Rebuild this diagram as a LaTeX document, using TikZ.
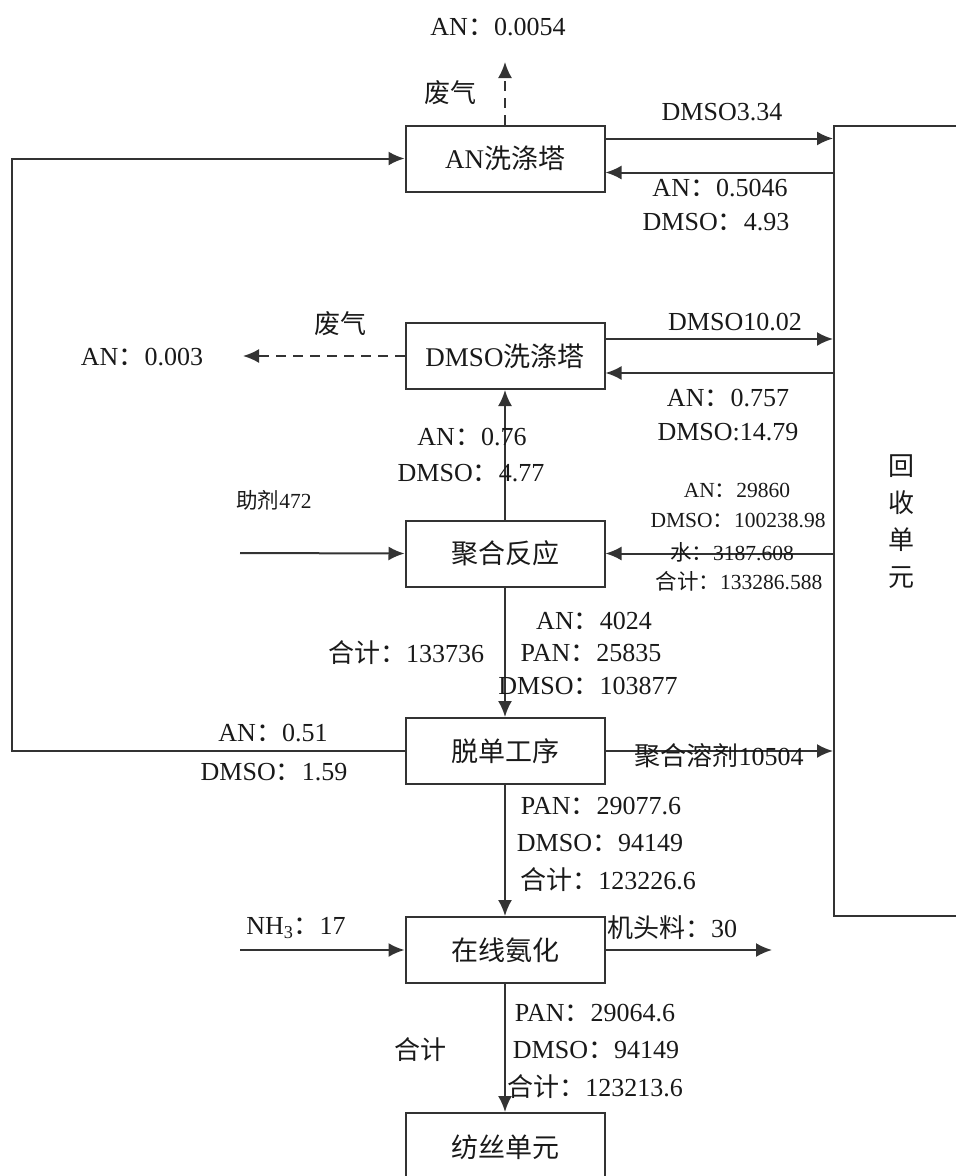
\documentclass[tikz,border=0pt]{standalone}
\usepackage{fontspec}
\setmainfont{Liberation Serif}
\newfontfamily\cjkfont{Noto Sans CJK SC}
\newcommand{\zhs}[1]{{\cjkfont #1}}
\newcommand{\cln}{{\cjkfont ：}}
\usetikzlibrary{arrows.meta}
\tikzset{
  procbox/.style={draw=black!80, line width=2pt, minimum width=199pt, minimum height=66pt, inner sep=0pt, font=\fontsize{27}{30}\selectfont, text=black!90},
  lbl/.style={inner sep=0pt, font=\fontsize{26}{28}\selectfont, text=black!90},
  smalllbl/.style={inner sep=0pt, font=\fontsize{21.5}{24}\selectfont, text=black!90},
  flow/.style={draw=black!80, line width=2pt, -{Latex[length=16pt,width=14pt]}},
  dflow/.style={flow, dash pattern=on 10pt off 7pt}
}
\begin{document}
\begin{tikzpicture}[x=1pt,y=-1pt]
\useasboundingbox (0,0) rectangle (956,1176);
% process boxes
\node[procbox] (anw)  at (505,158.5) {AN\zhs{洗涤塔}};
\node[procbox] (dmw)  at (505,356)   {DMSO\zhs{洗涤塔}};
\node[procbox] (poly) at (505,553.5) {\zhs{聚合反应}};
\node[procbox] (demo) at (505,751)   {\zhs{脱单工序}};
\node[procbox] (amm)  at (505,950)   {\zhs{在线氨化}};
\node[procbox, minimum height=68pt] (spin) at (505,1147) {\zhs{纺丝单元}};
% recovery unit
\node[draw=black!80, line width=2pt, minimum width=126pt, minimum height=790pt, inner sep=0pt] (rec) at (897,521) {};
\node[inner sep=0pt, align=center, font=\fontsize{26}{37}\selectfont, text=black!90] (recl) at (901,521.5) {\zhs{回}\\\zhs{收}\\\zhs{单}\\\zhs{元}};
% free ends
\coordinate (topout) at (505,62);
\coordinate (leftout) at (243,356);
\coordinate (addin) at (240,553);
\coordinate (loopx) at (12,0);
\coordinate (nhin) at (240,950);
\coordinate (headout) at (772,950);
% connectors
\draw[dflow] (anw.north) -- (topout);
\draw[flow] ([yshift=20pt]anw.east) -- ([yshift=20pt]anw.east -| rec.west);
\draw[flow] ([yshift=-14pt]anw.east -| rec.west) -- ([yshift=-14pt]anw.east);
\draw[dflow] (dmw.west) -- (leftout);
\draw[flow] ([yshift=17pt]dmw.east) -- ([yshift=17pt]dmw.east -| rec.west);
\draw[flow] ([yshift=-17pt]dmw.east -| rec.west) -- ([yshift=-17pt]dmw.east);
\draw[flow] (poly.north) -- (dmw.south);
\draw[flow] (addin) -- (poly.west);
\draw[flow] (poly.east -| rec.west) -- (poly.east);
\draw[flow] (poly.south) -- (demo.north);
\draw[flow] (demo.west) -- (demo.west -| loopx) |- (anw.west);
\draw[flow] (demo.east) -- (demo.east -| rec.west);
\draw[flow] (demo.south) -- (amm.north);
\draw[flow] (nhin) -- (amm.west);
\draw[flow] (amm.east) -- (headout);
\draw[flow] (amm.south) -- (spin.north);
% labels
\node[lbl] (l1) at (498,27) {AN\cln 0.0054};
\node[lbl] (l2) at (450,93) {\zhs{废气}};
\node[lbl] (l3) at (722,112) {DMSO3.34};
\node[lbl] (l4) at (720,188) {AN\cln 0.5046};
\node[lbl] (l5) at (716,222) {DMSO\cln 4.93};
\node[lbl] (l6) at (340,324) {\zhs{废气}};
\node[lbl] (l7) at (142,357) {AN\cln 0.003};
\node[lbl] (l8) at (735,322) {DMSO10.02};
\node[lbl] (l9) at (728,398) {AN\cln 0.757};
\node[lbl] (l10) at (728,432) {DMSO:14.79};
\node[lbl] (l11) at (472,437) {AN\cln 0.76};
\node[lbl] (l12) at (471,473) {DMSO\cln 4.77};
\node[smalllbl] (l13) at (274,500) {\zhs{助剂}472};
\node[smalllbl] (l14) at (737,490) {AN\cln 29860};
\node[smalllbl] (l15) at (738,520) {DMSO\cln 100238.98};
\node[smalllbl] (l16) at (732,552) {\zhs{水}\cln 3187.608};
\node[smalllbl] (l17) at (739,581) {\zhs{合计}\cln 133286.588};
\node[lbl] (l18) at (594,621) {AN\cln 4024};
\node[lbl] (l19) at (406,653) {\zhs{合计}\cln 133736};
\node[lbl] (l20) at (591,653) {PAN\cln 25835};
\node[lbl] (l21) at (588,686) {DMSO\cln 103877};
\node[lbl] (l22) at (273,733) {AN\cln 0.51};
\node[lbl] (l23) at (274,772) {DMSO\cln 1.59};
\node[lbl] (l24) at (719,756) {\zhs{聚合溶剂}10504};
\node[lbl] (l25) at (601,806) {PAN\cln 29077.6};
\node[lbl] (l26) at (600,843) {DMSO\cln 94149};
\node[lbl] (l27) at (608,880) {\zhs{合计}\cln 123226.6};
\node[lbl] (l28) at (296,928) {NH\textsubscript{3}\cln 17};
\node[lbl] (l29) at (672,928) {\zhs{机头料}\cln 30};
\node[lbl] (l30) at (595,1013) {PAN\cln 29064.6};
\node[lbl] (l31) at (596,1050) {DMSO\cln 94149};
\node[lbl] (l32) at (595,1087) {\zhs{合计}\cln 123213.6};
\node[lbl] (l33) at (420,1050) {\zhs{合计}};
\end{tikzpicture}
\end{document}
